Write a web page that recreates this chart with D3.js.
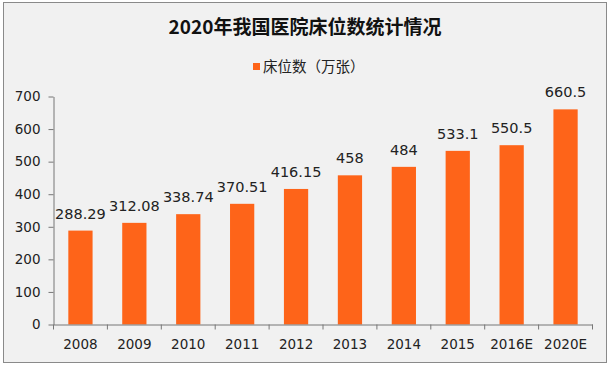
<!DOCTYPE html>
<html><head><meta charset="utf-8">
<script src="https://cdn.jsdelivr.net/npm/d3@7"></script>
<style>html,body{margin:0;padding:0;background:#fff;}svg{display:block;}</style>
</head><body>
<svg id="c" width="611" height="367"></svg>
<script>
const categories = ["2008","2009","2010","2011","2012","2013","2014","2015","2016E","2020E"];
const values = [288.29,312.08,338.74,370.51,416.15,458,484,533.1,550.5,660.5];
const valueLabels = ["288.29","312.08","338.74","370.51","416.15","458","484","533.1","550.5","660.5"];
const yTicks = [0,100,200,300,400,500,600,700];
const title = "2020年我国医院床位数统计情况";
const seriesName = "床位数（万张）";

const svg = d3.select("#c");
const numFont = "'DejaVu Sans', Verdana, sans-serif";
const cjkFont = "'Noto Sans CJK SC', 'Noto Sans', sans-serif";

svg.append("rect").attr("x",3.5).attr("y",2.5).attr("width",603).attr("height",360)
  .attr("fill","#f1f1f1").attr("stroke","#8a8a8a").attr("stroke-width",1);

const x = d3.scaleBand().domain(categories).range([53.5,592.5]).paddingInner(0.55).paddingOuter(0.275);
const y = d3.scaleLinear().domain([0,700]).range([324.5,96.5]);

// title
svg.append("text").attr("x",305).attr("y",34).attr("text-anchor","middle")
  .attr("font-family",cjkFont).attr("font-weight","bold").attr("font-size",19)
  .attr("fill","#111").text(title);

// legend
svg.append("rect").attr("x",253).attr("y",63).attr("width",7).attr("height",7).attr("fill","#fe6419");
svg.append("text").attr("x",263).attr("y",72).attr("font-family",cjkFont).attr("font-size",14.5)
  .attr("fill","#222").text(seriesName);

// bars
svg.append("g").selectAll("rect").data(values).join("rect")
  .attr("x",(d,i)=>x(categories[i])).attr("width",x.bandwidth())
  .attr("y",d=>y(d)).attr("height",d=>y(0)-y(d)).attr("fill","#fe6419");

// value labels
svg.append("g").selectAll("text").data(values).join("text")
  .attr("x",(d,i)=>x(categories[i])+x.bandwidth()/2).attr("y",d=>y(d)-12)
  .attr("text-anchor","middle").attr("font-family",numFont).attr("font-size",14.5)
  .attr("fill","#222").text((d,i)=>valueLabels[i]);

// y axis
const yAxis = svg.append("g").attr("transform","translate(53.5,0)")
  .call(d3.axisLeft(y).tickValues(yTicks).tickSize(5).tickPadding(8).tickSizeOuter(0));
yAxis.select(".domain").attr("stroke","#777");
yAxis.selectAll(".tick line").attr("stroke","#777");
yAxis.selectAll("text").attr("font-family",numFont).attr("font-size",13.5).attr("fill","#222");

// x axis
const xAxis = svg.append("g").attr("transform",`translate(0,${y(0)})`)
  .call(d3.axisBottom(x).tickSize(0).tickPadding(15));
xAxis.select(".domain").attr("stroke","#777");
xAxis.selectAll("text").attr("font-family",numFont).attr("font-size",13.5).attr("fill","#222");
// category separator ticks
const step = x.step();
const seps = d3.range(categories.length+1).map(i=>53.5+i*step);
svg.append("g").selectAll("line").data(seps).join("line")
  .attr("x1",d=>d).attr("x2",d=>d).attr("y1",y(0)).attr("y2",y(0)+5).attr("stroke","#777");
</script>
</body></html>
